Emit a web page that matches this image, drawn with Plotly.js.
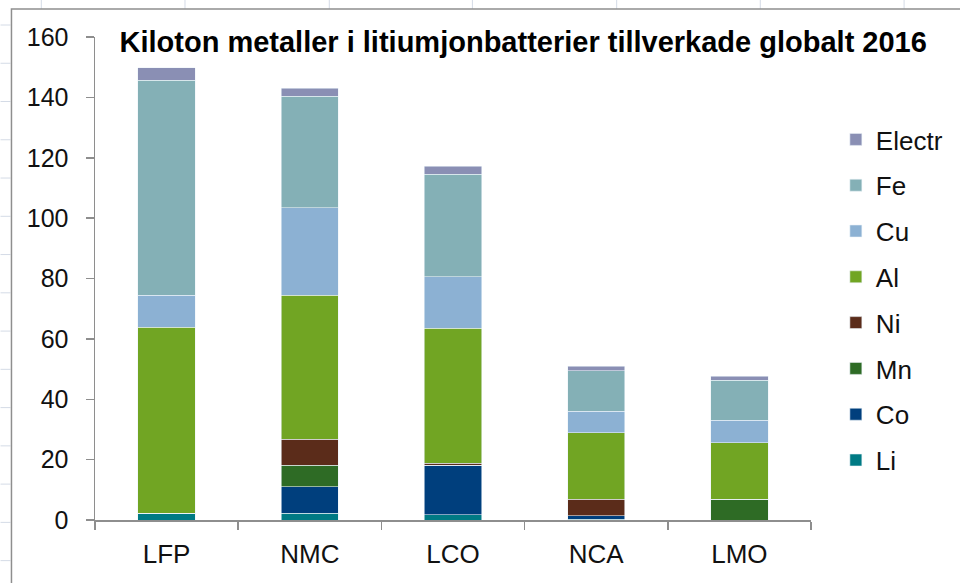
<!DOCTYPE html>
<html>
<head>
<meta charset="utf-8">
<script src="https://cdn.plot.ly/plotly-3.0.1.min.js"></script>
<style>html,body{margin:0;padding:0;background:#fff;}#chart{width:960px;height:583px;}</style>
</head>
<body>
<div id="chart"></div>
<script>
// ---- data ----
const categories = ["LFP", "NMC", "LCO", "NCA", "LMO"];
const Li     = [2.2, 2.2, 1.7, 0.2, 0];
const Co     = [0, 8.8, 16.4, 1.2, 0];
const Mn     = [0, 7.2, 0, 0, 6.9];
const Ni     = [0, 8.6, 0.7, 5.5, 0];
const Al     = [61.6, 47.7, 44.7, 22.0, 18.7];
const Cu     = [10.7, 29.0, 17.0, 7.2, 7.4];
const Fe     = [71.1, 36.9, 34.0, 13.3, 13.3];
const Electr = [4.2, 2.6, 2.7, 1.5, 1.3];
const yTicks = [0, 20, 40, 60, 80, 100, 120, 140, 160];
const gridTicks = [20, 40, 60, 80, 100, 120, 140];
const titleText = "Kiloton metaller i litiumjonbatterier tillverkade globalt 2016";

const series = [
  {name: "Li", y: Li, color: "#007a84"},
  {name: "Co", y: Co, color: "#003f7d"},
  {name: "Mn", y: Mn, color: "#2e6b25"},
  {name: "Ni", y: Ni, color: "#5b2c1a"},
  {name: "Al", y: Al, color: "#71a523"},
  {name: "Cu", y: Cu, color: "#8cb1d3"},
  {name: "Fe", y: Fe, color: "#84b0b6"},
  {name: "Electr", y: Electr, color: "#8a8fb4"}
];

const FONT = "Liberation Sans, Arial, sans-serif";
const traces = series.map((s, i) => ({
  type: "bar",
  name: s.name,
  x: categories,
  y: s.y,
  legendgroup: s.name,
  legendrank: series.length - i,
  marker: {color: s.color, line: {color: "rgba(235,242,248,0.7)", width: 0.8}},
  hoverinfo: "name+y"
}));

// plot area in pixels: left 95, right 815, top 37, bottom 520
const L = 95, R = 815, T = 37, B = 520;
const px = v => (v - L) / (R - L);
const py = v => 1 - (v - T) / (B - T);

const shapes = [];
// spreadsheet cell lines outside chart frame
const colX = [41, 185.5, 330.6, 474.5, 619.6, 764, 908.6];
colX.forEach(x => shapes.push({type: "line", xref: "paper", yref: "paper", x0: px(x), x1: px(x), y0: py(0), y1: py(9), line: {color: "#d4dbe6", width: 1}, layer: "below"}));
for (let k = 0; k < 15; k++) {
  const y = 25 + k * 38.26;
  shapes.push({type: "line", xref: "paper", yref: "paper", x0: px(0), x1: px(10), y0: py(y), y1: py(y), line: {color: "#d4dbe6", width: 1}, layer: "below"});
}
// chart frame
shapes.push({type: "rect", xref: "paper", yref: "paper", x0: px(11), x1: px(975), y0: py(9), y1: py(600), line: {color: "#8e8e8e", width: 1.5}, fillcolor: "rgba(0,0,0,0)", layer: "below"});

const layout = {
  width: 960, height: 583,
  margin: {l: L, r: 960 - R, t: T, b: 583 - B},
  paper_bgcolor: "#ffffff",
  plot_bgcolor: "rgba(0,0,0,0)",
  barmode: "stack",
  bargap: 0.6,
  showlegend: true,
  title: {
    text: "<b>" + titleText + "</b>",
    xref: "container", yref: "container",
    x: 0.545, xanchor: "center", y: 0.928, yanchor: "middle",
    font: {family: FONT, size: 29, color: "#000"}
  },
  xaxis: {
    type: "category",
    tickson: "boundaries",
    ticks: "outside", ticklen: 8, tickcolor: "#8e8e8e", tickwidth: 1.5,
    showline: true, linecolor: "#8e8e8e", linewidth: 1.5,
    showgrid: false, zeroline: false,
    ticklabelstandoff: 10,
    tickfont: {family: FONT, size: 26, color: "#111"},
    fixedrange: true
  },
  yaxis: {
    range: [0, 160],
    tickmode: "array", tickvals: yTicks,
    ticks: "outside", ticklen: 8, tickcolor: "#8e8e8e", tickwidth: 1.5,
    showline: true, linecolor: "#8e8e8e", linewidth: 1.5,
    showgrid: false, zeroline: false,
    ticklabelstandoff: 12,
    tickfont: {family: FONT, size: 25, color: "#111"},
    fixedrange: true
  },
  yaxis2: {
    overlaying: "y", side: "left",
    range: [0, 160],
    tickmode: "array", tickvals: gridTicks,
    showticklabels: false, ticks: "",
    showline: false, zeroline: false,
    showgrid: true, gridcolor: "#8e8e8e", gridwidth: 1.5,
    fixedrange: true
  },
  legend: {
    x: px(840), xanchor: "left",
    y: py(116), yanchor: "top",
    traceorder: "grouped",
    tracegroupgap: 9,
    font: {family: FONT, size: 26, color: "#111"},
    bgcolor: "rgba(0,0,0,0)",
    itemwidth: 30
  },
  shapes: shapes
};

Plotly.newPlot("chart", traces, layout, {displayModeBar: false, staticPlot: true});
</script>
</body>
</html>
